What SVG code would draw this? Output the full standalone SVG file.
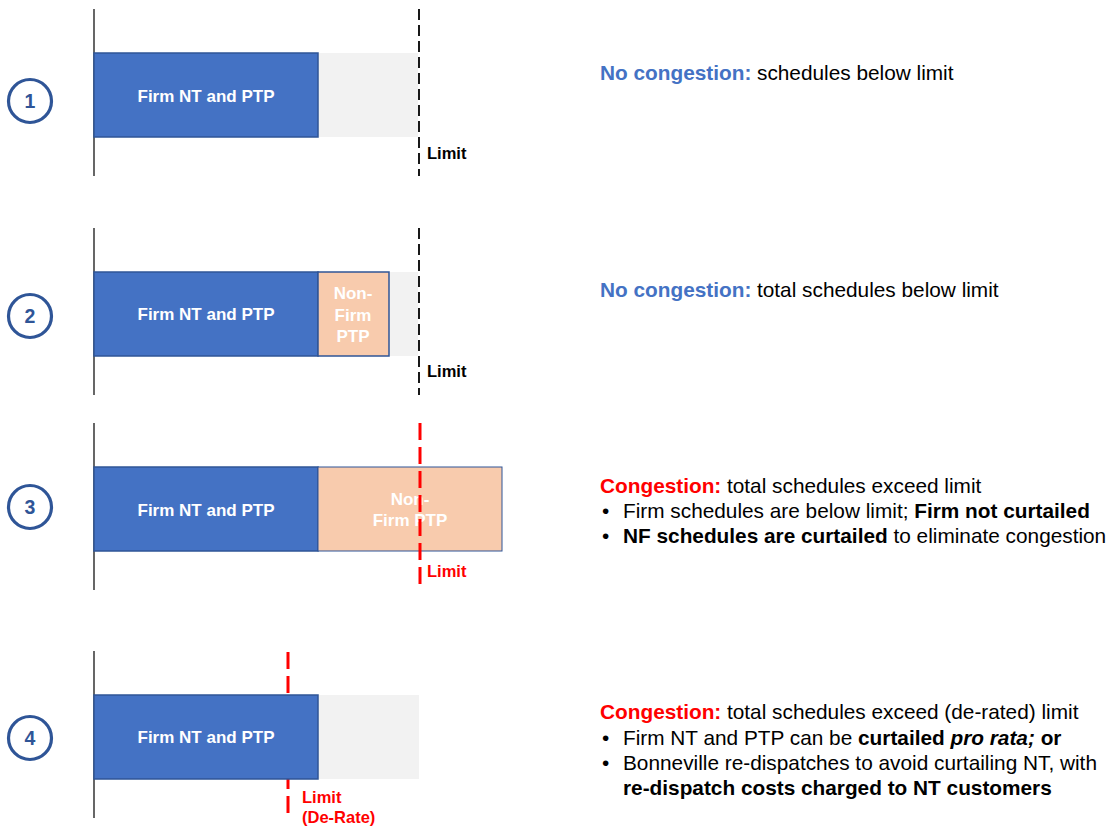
<svg xmlns="http://www.w3.org/2000/svg" width="1110" height="826" viewBox="0 0 1110 826">
<style>
text{font-family:"Liberation Sans",Arial,sans-serif}
.axis{stroke:#000;stroke-width:1.2}
.firm{fill:#4472C4;stroke:#2F5597;stroke-width:1.5}
.nf{fill:#F8CBAD;stroke:#2F5597;stroke-width:1.5}
.nf2{fill:#F8CBAD;stroke:#2F5597;stroke-width:1}
.spare{fill:#F2F2F2}
.lim{stroke:#000;stroke-width:1.8;stroke-dasharray:11 5;fill:none}
.rlim{stroke:#FF0000;stroke-width:3;stroke-dasharray:17 7;fill:none}
.lbl{fill:#fff;font-weight:bold;font-size:17px;text-anchor:middle}
.num{fill:none;stroke:#2F5597;stroke-width:3.2}
.numt{fill:#2F5597;font-weight:bold;font-size:19.5px;text-anchor:middle}
.limt{font-weight:bold;font-size:16.5px;fill:#000}
.rlimt{font-weight:bold;font-size:16.5px;fill:#FF0000}
.desc{font-size:20.8px;fill:#000}
.b{font-weight:bold}
.nc{font-weight:bold;fill:#4472C4}
.cg{font-weight:bold;fill:#FF0000}
</style>

<g id="row1">
  <line class="axis" x1="94" y1="9" x2="94" y2="176"/>
  <rect class="spare" x="318" y="53" width="100" height="84"/>
  <rect class="firm" x="94" y="53" width="224" height="84"/>
  <text class="lbl" x="206" y="102">Firm NT and PTP</text>
  <line class="lim" x1="419" y1="9" x2="419" y2="176"/>
  <text class="limt" x="427" y="159">Limit</text>
  <circle class="num" cx="30" cy="101" r="21.5"/>
  <text class="numt" x="30" y="108">1</text>
  <text class="desc" x="600" y="80"><tspan class="nc">No congestion:</tspan><tspan x="757">schedules below limit</tspan></text>
</g>

<g id="row2">
  <line class="axis" x1="94" y1="228" x2="94" y2="395"/>
  <rect class="spare" x="389" y="272" width="29" height="84"/>
  <rect class="firm" x="94" y="272" width="224" height="84"/>
  <rect class="nf" x="318" y="272" width="71" height="84"/>
  <text class="lbl" x="206" y="320">Firm NT and PTP</text>
  <text class="lbl" x="353" y="299">Non-</text>
  <text class="lbl" x="353" y="321">Firm</text>
  <text class="lbl" x="353" y="342">PTP</text>
  <line class="lim" x1="419" y1="228" x2="419" y2="395"/>
  <text class="limt" x="427" y="377">Limit</text>
  <circle class="num" cx="30" cy="316" r="21.5"/>
  <text class="numt" x="30" y="323">2</text>
  <text class="desc" x="600" y="297"><tspan class="nc">No congestion:</tspan><tspan x="757">total schedules below limit</tspan></text>
</g>

<g id="row3">
  <line class="axis" x1="94" y1="423" x2="94" y2="590"/>
  <rect class="firm" x="94" y="467" width="224" height="84"/>
  <rect class="nf2" x="318" y="467" width="184" height="84"/>
  <text class="lbl" x="206" y="516">Firm NT and PTP</text>
  <text class="lbl" x="410" y="505">Non-</text>
  <text class="lbl" x="410" y="526">Firm PTP</text>
  <line class="rlim" x1="420" y1="423" x2="420" y2="590"/>
  <text class="rlimt" x="427" y="577">Limit</text>
  <circle class="num" cx="30" cy="507" r="21.5"/>
  <text class="numt" x="30" y="514">3</text>
  <text class="desc" x="600" y="493"><tspan class="cg">Congestion:</tspan><tspan x="727">total schedules exceed limit</tspan></text>
  <text class="desc" x="602" y="518">•</text>
  <text class="desc" x="623" y="518">Firm schedules are below limit; <tspan class="b">Firm not curtailed</tspan></text>
  <text class="desc" x="602" y="543">•</text>
  <text class="desc" x="623" y="543"><tspan class="b">NF schedules are curtailed</tspan> to eliminate congestion</text>
</g>

<g id="row4">
  <line class="axis" x1="94" y1="651" x2="94" y2="818"/>
  <line class="rlim" x1="288" y1="652" x2="288" y2="818"/>
  <rect class="spare" x="318" y="695" width="101" height="84"/>
  <rect class="firm" x="94" y="695" width="224" height="84"/>
  <text class="lbl" x="206" y="743">Firm NT and PTP</text>
  <text class="rlimt" x="302" y="803">Limit</text>
  <text class="rlimt" x="302" y="823">(De-Rate)</text>
  <circle class="num" cx="30" cy="738" r="21.5"/>
  <text class="numt" x="30" y="745">4</text>
  <text class="desc" x="600" y="719"><tspan class="cg">Congestion:</tspan><tspan x="727">total schedules exceed (de-rated) limit</tspan></text>
  <text class="desc" x="602" y="745">•</text>
  <text class="desc" x="623" y="745">Firm NT and PTP can be <tspan class="b">curtailed <tspan font-style="italic">pro rata;</tspan> or</tspan></text>
  <text class="desc" x="602" y="770">•</text>
  <text class="desc" x="623" y="770">Bonneville re-dispatches to avoid curtailing NT, with</text>
  <text class="desc b" x="623" y="795">re-dispatch costs charged to NT customers</text>
</g>
</svg>
